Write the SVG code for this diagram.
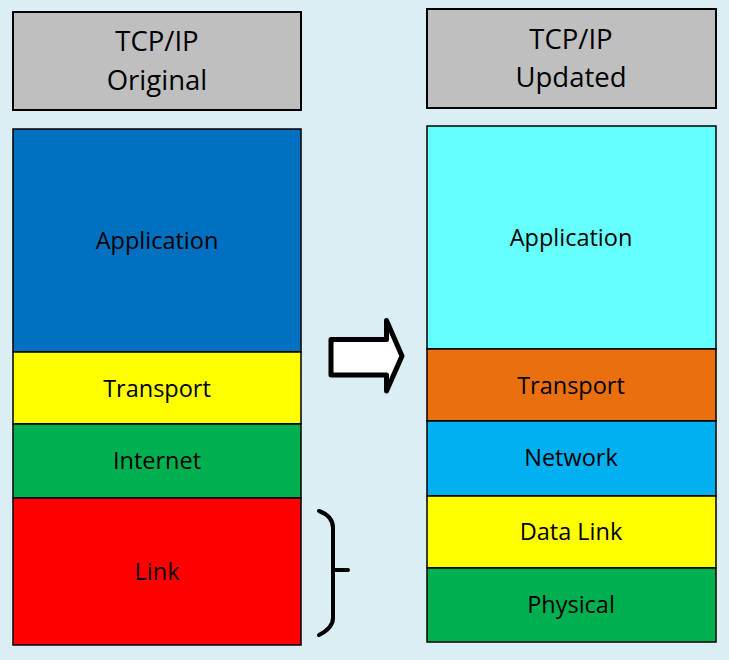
<svg xmlns="http://www.w3.org/2000/svg" width="729" height="660" viewBox="0 0 729 660">
<style>
  .box { stroke: #000; stroke-width: 1.5; }
  .hdr { fill: #BFBFBF; stroke: #000; stroke-width: 2; }
  .t { font-family: "Open Sans", "Liberation Sans", sans-serif; font-size: 23.5px; fill: #000; text-anchor: middle; dominant-baseline: central; }
  .h { font-family: "Open Sans", "Liberation Sans", sans-serif; font-size: 27.5px; fill: #000; text-anchor: middle; dominant-baseline: central; }
  .sym { fill: none; stroke: #000; stroke-linecap: round; stroke-linejoin: round; }
</style>
<rect x="0" y="0" width="729" height="660" fill="#DAEEF3"/>

<g id="header-original">
  <rect class="hdr" x="13" y="12" width="288" height="98"/>
  <text class="h" x="157" y="40">TCP/IP</text>
  <text class="h" x="157" y="79">Original</text>
</g>
<g id="orig-application">
  <rect class="box" x="13" y="129" width="288" height="223" fill="#0070C0"/>
  <text class="t" x="157" y="240">Application</text>
</g>
<g id="orig-transport">
  <rect class="box" x="13" y="352" width="288" height="72" fill="#FFFF00"/>
  <text class="t" x="157" y="388">Transport</text>
</g>
<g id="orig-internet">
  <rect class="box" x="13" y="424" width="288" height="74" fill="#00B050"/>
  <text class="t" x="157" y="460">Internet</text>
</g>
<g id="orig-link">
  <rect class="box" x="13" y="498" width="288" height="147" fill="#FF0000"/>
  <text class="t" x="157" y="571">Link</text>
</g>

<g id="header-updated">
  <rect class="hdr" x="427" y="9" width="289" height="99"/>
  <text class="h" x="571" y="38">TCP/IP</text>
  <text class="h" x="571" y="76">Updated</text>
</g>
<g id="upd-application">
  <rect class="box" x="427" y="126" width="289" height="223" fill="#66FFFF"/>
  <text class="t" x="571" y="237">Application</text>
</g>
<g id="upd-transport">
  <rect class="box" x="427" y="349" width="289" height="72" fill="#EA700F"/>
  <text class="t" x="571" y="385">Transport</text>
</g>
<g id="upd-network">
  <rect class="box" x="427" y="421" width="289" height="75" fill="#00B0F0"/>
  <text class="t" x="571" y="457">Network</text>
</g>
<g id="upd-datalink">
  <rect class="box" x="427" y="496" width="289" height="72" fill="#FFFF00"/>
  <text class="t" x="571" y="531">Data Link</text>
</g>
<g id="upd-physical">
  <rect class="box" x="427" y="568" width="289" height="74" fill="#00B050"/>
  <text class="t" x="571" y="604">Physical</text>
</g>

<g id="connectors">
  <path id="arrow" d="M331,339.5 L386.5,339.5 L386.5,320.5 L402,356 L386.5,391 L386.5,375 L331,375 Z" fill="#FFFFFF" stroke="#000" stroke-width="5" stroke-linejoin="round"/>
  <path id="brace" class="sym" stroke-width="4" d="M319,511 Q333,516 333,528 L333,618 Q333,628 319,635 M333,570 L348,570"/>
</g>
</svg>
